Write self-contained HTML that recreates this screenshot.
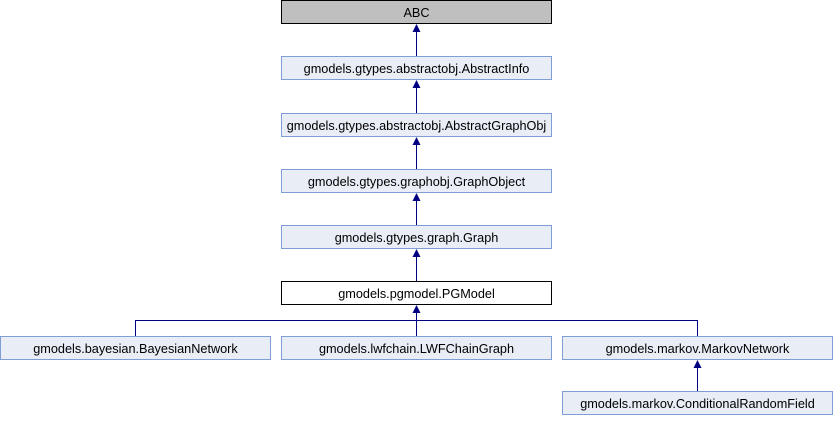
<!DOCTYPE html>
<html><head><style>
body{margin:0;background:#fff;}
svg text{font-family:"Liberation Sans",Arial,sans-serif;font-size:12.7px;fill:#000;text-anchor:middle;}
</style></head><body>
<svg width="833" height="416" viewBox="0 0 833 416" xmlns="http://www.w3.org/2000/svg">
<g stroke="#7f9ed6" fill="#e8edf6" stroke-width="1">
<rect x="281.5" y="56.5" width="270" height="23"/>
<rect x="281.5" y="113.5" width="270" height="23"/>
<rect x="281.5" y="169.5" width="270" height="23"/>
<rect x="281.5" y="225.5" width="270" height="23"/>
<rect x="0.5" y="336.5" width="270" height="23"/>
<rect x="281.5" y="336.5" width="270" height="23"/>
<rect x="562.5" y="336.5" width="270" height="23"/>
<rect x="562.5" y="391.5" width="270" height="23"/>
</g>
<rect x="281.5" y="0.5" width="270" height="23" fill="#bfbfbf" stroke="#000"/>
<rect x="281.5" y="281.5" width="270" height="23" fill="#fff" stroke="#000"/>
<g stroke="#000080" stroke-width="1" fill="none">
<line x1="416.5" y1="30" x2="416.5" y2="56"/>
<line x1="416.5" y1="87" x2="416.5" y2="113"/>
<line x1="416.5" y1="143" x2="416.5" y2="169"/>
<line x1="416.5" y1="199" x2="416.5" y2="225"/>
<line x1="416.5" y1="255" x2="416.5" y2="281"/>
<line x1="416.5" y1="311" x2="416.5" y2="336"/>
<polyline points="135.5,336 135.5,320.5 697.5,320.5 697.5,336"/>
<line x1="697.5" y1="366" x2="697.5" y2="391"/>
</g>
<g fill="#000080">
<polygon points="416.5,24 412.5,32 420.5,32"/>
<polygon points="416.5,80 412.5,88 420.5,88"/>
<polygon points="416.5,137 412.5,145 420.5,145"/>
<polygon points="416.5,193 412.5,201 420.5,201"/>
<polygon points="416.5,249 412.5,257 420.5,257"/>
<polygon points="416.5,305 412.5,313 420.5,313"/>
<polygon points="697.5,360 693.5,368 701.5,368"/>
</g>
<text x="416.5" y="17">ABC</text>
<text x="416.5" y="73">gmodels.gtypes.abstractobj.AbstractInfo</text>
<text x="416.5" y="130">gmodels.gtypes.abstractobj.AbstractGraphObj</text>
<text x="416.5" y="186">gmodels.gtypes.graphobj.GraphObject</text>
<text x="416.5" y="242">gmodels.gtypes.graph.Graph</text>
<text x="416.5" y="298">gmodels.pgmodel.PGModel</text>
<text x="135.5" y="353">gmodels.bayesian.BayesianNetwork</text>
<text x="416.5" y="353">gmodels.lwfchain.LWFChainGraph</text>
<text x="697.5" y="353">gmodels.markov.MarkovNetwork</text>
<text x="697.5" y="408">gmodels.markov.ConditionalRandomField</text>
</svg>
</body></html>
